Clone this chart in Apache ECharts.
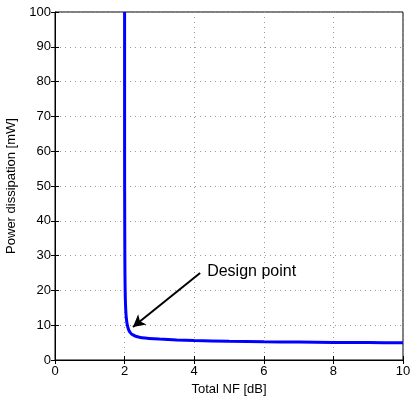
<!DOCTYPE html>
<html><head><meta charset="utf-8">
<script src="https://cdn.jsdelivr.net/npm/echarts@6/dist/echarts.min.js"></script>
<style>html,body{margin:0;padding:0;background:#fff}#c{width:410px;height:396px}</style>
</head><body><div id="c"></div>
<script>
const nf = [2.0, 2.0, 2.005, 2.01, 2.02, 2.035, 2.05, 2.07, 2.1, 2.13, 2.17, 2.22, 2.3, 2.4, 2.5, 2.7, 3.0, 3.5, 4.0, 5.0, 6.0, 7.0, 8.0, 9.0, 10.0];
const power = [100, 60, 35, 25, 18, 14, 12, 10.5, 9.2, 8.4, 7.8, 7.3, 6.9, 6.6, 6.4, 6.2, 6.0, 5.75, 5.6, 5.4, 5.25, 5.15, 5.05, 5.0, 4.95];
const xTicks = [0, 2, 4, 6, 8, 10];
const yTicks = [0, 10, 20, 30, 40, 50, 60, 70, 80, 90, 100];
const arrowFrom = [4.17, 25];
const arrowTo = [2.24, 9.5];
const labelAt = [4.2, 25.3];
const annotation = 'Design point';

const font = 'Liberation Sans, Arial, sans-serif';
const chart = echarts.init(document.getElementById('c'), null, {renderer: 'canvas'});
const gridLine = {show: true, lineStyle: {color: '#999', type: [1, 4], width: 1}};
chart.setOption({
  animation: false,
  grid: {left: 55, right: 7, top: 12, bottom: 36, show: true, borderColor: '#000', borderWidth: 1,
    containLabel: false, outerBoundsMode: 'none'},
  xAxis: [{
    type: 'value', min: 0, max: 10, interval: 2,
    name: 'Total NF [dB]', nameLocation: 'middle', nameGap: 15,
    nameTextStyle: {fontFamily: font, fontSize: 13, color: '#000'},
    axisLine: {onZero: false, lineStyle: {color: '#000'}},
    axisTick: {inside: true, length: 4, lineStyle: {color: '#000'}},
    axisLabel: {fontFamily: font, fontSize: 13, color: '#000', margin: 5},
    splitLine: gridLine
  }, {
    type: 'value', min: 0, max: 10, interval: 2, position: 'top',
    axisLine: {show: false}, axisTick: {inside: true, length: 4, lineStyle: {color: '#000'}},
    axisLabel: {show: false}, splitLine: {show: false}
  }],
  yAxis: [{
    type: 'value', min: 0, max: 100, interval: 10,
    name: 'Power dissipation [mW]', nameLocation: 'middle', nameGap: 31, nameRotate: 90,
    nameTextStyle: {fontFamily: font, fontSize: 13, color: '#000'},
    axisLine: {onZero: false, lineStyle: {color: '#000'}},
    axisTick: {inside: true, length: 4, lineStyle: {color: '#000'}},
    axisLabel: {fontFamily: font, fontSize: 13, color: '#000', margin: 4},
    splitLine: gridLine
  }, {
    type: 'value', min: 0, max: 100, interval: 10, position: 'right',
    axisLine: {show: false}, axisTick: {inside: true, length: 4, lineStyle: {color: '#000'}},
    axisLabel: {show: false}, splitLine: {show: false}
  }],
  series: [{
    type: 'line', xAxisIndex: 0, yAxisIndex: 0,
    data: nf.map((x, i) => [x, power[i]]),
    showSymbol: false, smooth: 0.3,
    lineStyle: {color: '#0000ff', width: 3},
    markLine: {
      silent: true, symbol: ['none', 'arrow'], symbolSize: [10, 12],
      lineStyle: {color: '#000', width: 2, type: 'solid'},
      label: {show: false},
      data: [[{coord: arrowFrom}, {coord: arrowTo}]]
    },
    markPoint: {
      symbol: 'circle', symbolSize: 0,
      label: {show: true, position: 'right', distance: 6, formatter: annotation,
        fontFamily: font, fontSize: 16, color: '#000'},
      data: [{coord: labelAt}]
    }
  }]
});
</script></body></html>
